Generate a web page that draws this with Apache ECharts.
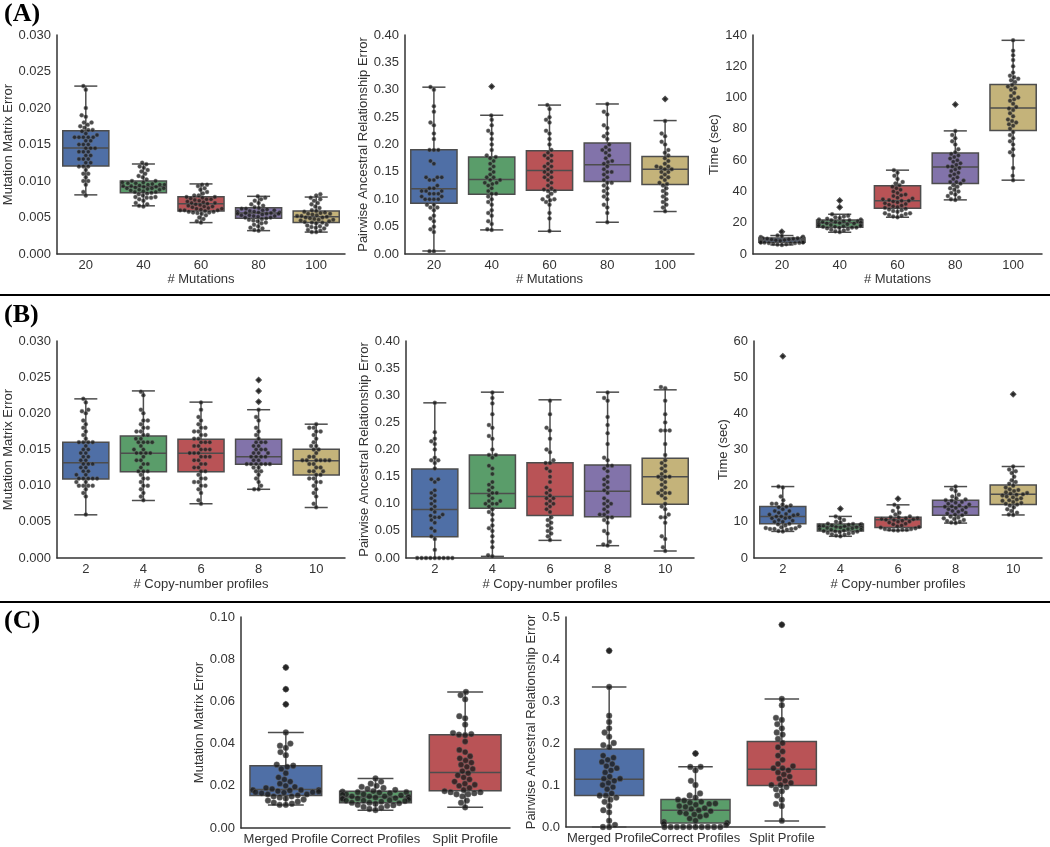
<!DOCTYPE html>
<html>
<head>
<meta charset="utf-8">
<script src="https://cdn.jsdelivr.net/npm/echarts@6/dist/echarts.min.js"></script>
<style>
  html, body { margin: 0; padding: 0; background: #fff; }
  #main { width: 1050px; height: 847px; }
</style>
</head>
<body>
<div id="main"></div>
<script>
// categories
var mutCats = ['20', '40', '60', '80', '100'];
var cnpCats = ['2', '4', '6', '8', '10'];
var profCats = ['Merged Profile', 'Correct Profiles', 'Split Profile'];

// box stats per category: [lowWhisker, q1, median, q3, highWhisker]
var aMatStats = [[0.0081, 0.01205, 0.01452, 0.0169, 0.0230], [0.0066, 0.0084, 0.0092, 0.0100, 0.01233], [0.0043, 0.0059, 0.0069, 0.00785, 0.0096], [0.0032, 0.0049, 0.0056, 0.00635, 0.0079], [0.0030, 0.0043, 0.0051, 0.0059, 0.0078]];
var aPairStats = [[0.0055, 0.0928, 0.119, 0.1905, 0.3047], [0.044, 0.109, 0.136, 0.177, 0.2534], [0.0415, 0.1166, 0.1527, 0.1887, 0.272], [0.058, 0.1325, 0.163, 0.2027, 0.274], [0.0776, 0.127, 0.155, 0.178, 0.2437]];
var aTimeStats = [[5.8, 7.5, 9.0, 10.3, 11.8], [13.9, 17.1, 19.9, 21.8, 25.4], [23.5, 29.3, 34.0, 43.6, 53.6], [34.6, 45.1, 55.6, 64.5, 78.7], [47.2, 78.9, 93.4, 108.4, 136.6]];
var bMatStats = [[0.00597, 0.01093, 0.01318, 0.0160, 0.0220], [0.00795, 0.01194, 0.01447, 0.01686, 0.0231], [0.0075, 0.01194, 0.01447, 0.0164, 0.02155], [0.0095, 0.01296, 0.0140, 0.0164, 0.0205], [0.00698, 0.01149, 0.01346, 0.01502, 0.0185]];
var bPairStats = [[0.0, 0.0392, 0.0894, 0.1642, 0.286], [0.003, 0.0919, 0.1188, 0.1899, 0.3057], [0.0325, 0.0784, 0.1133, 0.1758, 0.2916], [0.0227, 0.076, 0.1231, 0.1715, 0.3057], [0.0129, 0.0992, 0.150, 0.1838, 0.310]];
var bTimeStats = [[7.35, 9.46, 11.5, 14.24, 19.75], [6.0, 7.5, 8.7, 9.37, 11.5], [7.6, 8.45, 10.6, 11.3, 14.7], [9.65, 11.85, 14.15, 16.0, 19.75], [11.9, 14.8, 17.6, 20.2, 25.3]];
var cMatStats = [[0.0109, 0.0154, 0.0182, 0.0295, 0.0453], [0.0084, 0.0120, 0.0147, 0.0174, 0.0235], [0.0098, 0.0177, 0.0263, 0.0442, 0.0645]];
var cPairStats = [[0.0, 0.0748, 0.1139, 0.1855, 0.3336], [0.0, 0.0096, 0.0398, 0.0653, 0.1433], [0.0143, 0.0987, 0.1377, 0.2038, 0.305]];

// outliers per category
var aMatOut = [[], [], [], [], []];
var aPairOut = [[], [0.306], [], [], [0.283]];
var aTimeOut = [[14.3], [34.2, 29.9], [], [95.5], []];
var bMatOut = [[], [], [], [0.0246, 0.0231, 0.0216], []];
var bPairOut = [[], [], [], [], []];
var bTimeOut = [[55.8], [13.6], [16.4], [], [45.3]];
var cMatOut = [[0.0761, 0.0658, 0.0586], [], []];
var cPairOut = [[0.4196], [0.175], [0.4817]];

// individual observations per category (swarm)
var aMatPts = [
  [0.023, 0.0225, 0.020, 0.019, 0.0188, 0.018, 0.018, 0.0177, 0.0175, 0.0173, 0.017, 0.017, 0.0168, 0.0165, 0.0163, 0.016, 0.016, 0.016, 0.016, 0.016, 0.0155, 0.0155, 0.015, 0.015, 0.015, 0.0145, 0.0145, 0.0145, 0.014, 0.014, 0.014, 0.0135, 0.0135, 0.013, 0.013, 0.013, 0.0125, 0.0125, 0.012, 0.012, 0.012, 0.0115, 0.011, 0.011, 0.0105, 0.010, 0.010, 0.0095, 0.0085, 0.008],
  [0.0125, 0.0123, 0.012, 0.0118, 0.0115, 0.0113, 0.011, 0.0107, 0.0105, 0.0102, 0.010, 0.010, 0.0098, 0.0098, 0.0097, 0.0097, 0.0096, 0.0095, 0.0095, 0.0095, 0.0094, 0.0093, 0.0093, 0.0092, 0.0092, 0.0091, 0.009, 0.009, 0.009, 0.0089, 0.0088, 0.0088, 0.0087, 0.0086, 0.0085, 0.0085, 0.0084, 0.0083, 0.0082, 0.008, 0.0078, 0.0078, 0.0077, 0.0077, 0.0075, 0.0073, 0.007, 0.0068, 0.0066, 0.0065],
  [0.0095, 0.0095, 0.0093, 0.009, 0.0088, 0.0085, 0.0083, 0.008, 0.008, 0.0078, 0.0078, 0.0077, 0.0076, 0.0075, 0.0075, 0.0074, 0.0073, 0.0072, 0.0071, 0.007, 0.007, 0.0069, 0.0068, 0.0067, 0.0066, 0.0065, 0.0065, 0.0064, 0.0063, 0.0062, 0.0062, 0.0061, 0.006, 0.006, 0.006, 0.0059, 0.0058, 0.0058, 0.0057, 0.0057, 0.0056, 0.0055, 0.0053, 0.005, 0.0048, 0.0045, 0.0043],
  [0.0079, 0.0077, 0.0075, 0.0073, 0.007, 0.0068, 0.0066, 0.0064, 0.0063, 0.0062, 0.0062, 0.0061, 0.006, 0.006, 0.0059, 0.0058, 0.0058, 0.0057, 0.0057, 0.0056, 0.0056, 0.0055, 0.0055, 0.0055, 0.0054, 0.0053, 0.0053, 0.0052, 0.0052, 0.0051, 0.005, 0.005, 0.0049, 0.0048, 0.0047, 0.0046, 0.0045, 0.0043, 0.0042, 0.004, 0.0038, 0.0036, 0.0035, 0.0033, 0.0032],
  [0.0082, 0.008, 0.0077, 0.0075, 0.0073, 0.007, 0.0068, 0.0065, 0.0063, 0.006, 0.0059, 0.0058, 0.0057, 0.0056, 0.0055, 0.0055, 0.0054, 0.0053, 0.0052, 0.0052, 0.0051, 0.005, 0.005, 0.0049, 0.0048, 0.0047, 0.0047, 0.0046, 0.0045, 0.0044, 0.0043, 0.0043, 0.0042, 0.004, 0.0039, 0.0038, 0.0037, 0.0036, 0.0035, 0.0033, 0.0032, 0.003, 0.003]
];
var aPairPts = [
  [0.305, 0.30, 0.27, 0.26, 0.24, 0.235, 0.22, 0.21, 0.19, 0.19, 0.19, 0.17, 0.165, 0.14, 0.14, 0.14, 0.135, 0.135, 0.125, 0.12, 0.12, 0.115, 0.115, 0.115, 0.11, 0.11, 0.11, 0.105, 0.105, 0.10, 0.10, 0.10, 0.10, 0.09, 0.09, 0.085, 0.085, 0.08, 0.07, 0.065, 0.06, 0.05, 0.045, 0.04, 0.005, 0.005],
  [0.306, 0.253, 0.245, 0.235, 0.225, 0.22, 0.21, 0.2, 0.19, 0.18, 0.177, 0.175, 0.17, 0.165, 0.16, 0.155, 0.15, 0.145, 0.14, 0.14, 0.135, 0.135, 0.13, 0.13, 0.128, 0.125, 0.12, 0.115, 0.11, 0.11, 0.105, 0.1, 0.095, 0.09, 0.08, 0.075, 0.07, 0.06, 0.055, 0.045, 0.044],
  [0.272, 0.265, 0.25, 0.245, 0.24, 0.225, 0.22, 0.21, 0.2, 0.19, 0.185, 0.18, 0.18, 0.175, 0.17, 0.165, 0.16, 0.16, 0.155, 0.15, 0.15, 0.145, 0.14, 0.14, 0.135, 0.13, 0.125, 0.12, 0.118, 0.115, 0.115, 0.11, 0.105, 0.1, 0.1, 0.098, 0.095, 0.09, 0.075, 0.065, 0.042],
  [0.274, 0.26, 0.255, 0.235, 0.23, 0.22, 0.215, 0.21, 0.2, 0.195, 0.19, 0.19, 0.185, 0.18, 0.175, 0.17, 0.168, 0.165, 0.16, 0.155, 0.15, 0.15, 0.145, 0.14, 0.135, 0.13, 0.13, 0.125, 0.12, 0.115, 0.11, 0.105, 0.1, 0.09, 0.085, 0.075, 0.058],
  [0.283, 0.243, 0.22, 0.215, 0.205, 0.2, 0.19, 0.185, 0.18, 0.175, 0.17, 0.165, 0.16, 0.16, 0.158, 0.155, 0.155, 0.15, 0.15, 0.145, 0.14, 0.14, 0.135, 0.13, 0.128, 0.125, 0.12, 0.115, 0.11, 0.105, 0.1, 0.095, 0.09, 0.085, 0.078]
];
var aTimePts = [
  [14.3, 11.8, 11.5, 11, 10.8, 10.5, 10.3, 10.2, 10, 10, 9.8, 9.7, 9.5, 9.5, 9.4, 9.3, 9.2, 9, 9, 9, 8.9, 8.8, 8.7, 8.6, 8.5, 8.5, 8.4, 8.3, 8.2, 8.1, 8, 8, 7.9, 7.8, 7.7, 7.5, 7.5, 7.4, 7.3, 7.2, 7, 7, 6.8, 6.5, 6.3, 6, 5.8],
  [34.2, 29.9, 25.4, 24.5, 24, 23.5, 23, 22.5, 22, 22, 21.5, 21.5, 21, 21, 20.5, 20.5, 20, 20, 20, 19.8, 19.5, 19.5, 19, 19, 18.5, 18.5, 18, 18, 17.8, 17.5, 17.5, 17, 17, 16.8, 16.5, 16, 15.5, 15, 14.5, 14],
  [53.6, 52, 50, 48, 46, 45, 44, 43, 42, 41, 40, 39, 38, 37.5, 37, 36, 35.5, 35, 34.5, 34, 34, 33.5, 33, 32.5, 32, 31.5, 31, 30.5, 30, 29.5, 29, 28.5, 28, 27.5, 27, 26, 26, 25.5, 25, 24.5, 24, 23.5],
  [95.5, 78.7, 76, 74, 72, 70, 67, 65, 64, 63, 62, 61, 60, 59, 58, 57, 56, 56, 55, 54, 53, 52, 51, 50, 49, 48, 47, 46, 46, 45, 44, 43, 42, 41, 40, 39, 38, 37, 36, 35, 34.6],
  [136.6, 130, 127, 124, 120, 116, 114, 113, 112, 111, 110, 108, 107, 106, 105, 103, 101, 100, 99, 98, 96, 94, 93, 92, 90, 88, 86, 85, 84, 83, 82, 80, 78, 76, 74, 72, 70, 67, 65, 63, 55, 50, 47.2]
];
var bMatPts = [
  [0.022, 0.0215, 0.0205, 0.0203, 0.020, 0.019, 0.0185, 0.018, 0.0175, 0.017, 0.0165, 0.016, 0.016, 0.016, 0.016, 0.0155, 0.015, 0.015, 0.0145, 0.0145, 0.014, 0.014, 0.0135, 0.0135, 0.013, 0.013, 0.013, 0.0125, 0.0125, 0.012, 0.012, 0.0115, 0.0115, 0.011, 0.011, 0.011, 0.011, 0.011, 0.0105, 0.0105, 0.010, 0.010, 0.010, 0.010, 0.0095, 0.009, 0.0085, 0.006],
  [0.023, 0.0225, 0.0205, 0.02, 0.019, 0.019, 0.0185, 0.018, 0.018, 0.0175, 0.0175, 0.017, 0.017, 0.0165, 0.0165, 0.016, 0.016, 0.016, 0.016, 0.0155, 0.015, 0.015, 0.0145, 0.0145, 0.0145, 0.0145, 0.014, 0.0135, 0.0135, 0.013, 0.013, 0.0125, 0.012, 0.012, 0.012, 0.0115, 0.011, 0.011, 0.0105, 0.010, 0.010, 0.0095, 0.009, 0.0085, 0.008],
  [0.0215, 0.0205, 0.0195, 0.019, 0.0185, 0.018, 0.018, 0.0175, 0.0175, 0.017, 0.017, 0.0165, 0.0165, 0.016, 0.016, 0.016, 0.0155, 0.0155, 0.015, 0.015, 0.015, 0.0145, 0.0145, 0.0145, 0.014, 0.014, 0.014, 0.0135, 0.0135, 0.013, 0.013, 0.0125, 0.0125, 0.012, 0.012, 0.0115, 0.011, 0.011, 0.0105, 0.0105, 0.010, 0.010, 0.0095, 0.009, 0.008, 0.0075],
  [0.0246, 0.0231, 0.0216, 0.0205, 0.0195, 0.019, 0.018, 0.0175, 0.017, 0.0165, 0.016, 0.016, 0.016, 0.0155, 0.0155, 0.015, 0.015, 0.015, 0.0145, 0.0145, 0.0145, 0.014, 0.014, 0.014, 0.014, 0.0135, 0.0135, 0.013, 0.013, 0.013, 0.013, 0.013, 0.013, 0.0125, 0.0125, 0.012, 0.012, 0.0115, 0.011, 0.0105, 0.010, 0.0095, 0.0095],
  [0.0185, 0.018, 0.018, 0.0175, 0.0175, 0.017, 0.0165, 0.016, 0.0155, 0.0155, 0.015, 0.015, 0.0145, 0.014, 0.014, 0.0135, 0.0135, 0.0135, 0.0135, 0.0135, 0.0135, 0.013, 0.013, 0.0125, 0.0125, 0.012, 0.012, 0.012, 0.0115, 0.0115, 0.011, 0.011, 0.0105, 0.0105, 0.010, 0.0095, 0.009, 0.0085, 0.0075, 0.007]
];
var bPairPts = [
  [0.286, 0.232, 0.22, 0.215, 0.21, 0.2, 0.185, 0.18, 0.18, 0.175, 0.165, 0.145, 0.145, 0.14, 0.125, 0.12, 0.115, 0.11, 0.105, 0.1, 0.095, 0.09, 0.085, 0.08, 0.078, 0.075, 0.075, 0.07, 0.065, 0.055, 0.05, 0.04, 0.035, 0.015, 0, 0, 0, 0, 0, 0, 0, 0, 0],
  [0.305, 0.295, 0.285, 0.265, 0.245, 0.24, 0.225, 0.22, 0.2, 0.19, 0.19, 0.185, 0.17, 0.165, 0.155, 0.14, 0.135, 0.13, 0.125, 0.12, 0.12, 0.115, 0.11, 0.105, 0.105, 0.1, 0.1, 0.1, 0.095, 0.09, 0.085, 0.08, 0.07, 0.06, 0.055, 0.05, 0.04, 0.03, 0.02, 0.005, 0.003],
  [0.29, 0.265, 0.24, 0.235, 0.22, 0.2, 0.195, 0.18, 0.175, 0.175, 0.165, 0.16, 0.15, 0.14, 0.13, 0.125, 0.12, 0.115, 0.11, 0.11, 0.105, 0.1, 0.1, 0.095, 0.09, 0.085, 0.075, 0.07, 0.065, 0.06, 0.055, 0.05, 0.045, 0.04, 0.033],
  [0.305, 0.295, 0.29, 0.26, 0.245, 0.23, 0.21, 0.185, 0.18, 0.17, 0.17, 0.165, 0.16, 0.15, 0.145, 0.14, 0.135, 0.13, 0.125, 0.12, 0.11, 0.105, 0.1, 0.1, 0.095, 0.09, 0.085, 0.08, 0.08, 0.075, 0.075, 0.07, 0.065, 0.05, 0.045, 0.03, 0.025, 0.023],
  [0.315, 0.313, 0.29, 0.265, 0.25, 0.235, 0.235, 0.235, 0.21, 0.19, 0.18, 0.175, 0.17, 0.165, 0.16, 0.155, 0.15, 0.15, 0.15, 0.145, 0.14, 0.135, 0.13, 0.125, 0.12, 0.12, 0.12, 0.115, 0.11, 0.1, 0.095, 0.09, 0.08, 0.075, 0.075, 0.065, 0.04, 0.035, 0.02, 0.013]
];
var bTimePts = [
  [55.8, 19.75, 19.5, 17, 16, 15, 15, 14.8, 14.5, 14.2, 14, 13.5, 13, 13, 12.5, 12.2, 12, 12, 11.8, 11.5, 11.5, 11.2, 11, 11, 10.5, 10.3, 10, 10, 9.5, 9.3, 9, 8.8, 8.5, 8.3, 8.2, 8, 8, 8, 7.8, 7.5, 7.35],
  [13.6, 11.5, 11, 10.5, 10, 9.8, 9.5, 9.4, 9.3, 9.2, 9.2, 9, 9, 8.9, 8.8, 8.7, 8.6, 8.5, 8.5, 8.4, 8.3, 8.2, 8, 8, 7.9, 7.8, 7.6, 7.5, 7.4, 7.3, 7.2, 7, 7, 6.8, 6.6, 6.4, 6.2, 6],
  [16.4, 14.7, 14, 13, 12.5, 12, 11.5, 11.3, 11.2, 11, 11, 10.8, 10.7, 10.6, 10.5, 10.3, 10.1, 10, 9.8, 9.5, 9.3, 9, 8.8, 8.6, 8.4, 8.2, 8, 8, 7.9, 7.8, 7.8, 7.7, 7.6],
  [19.75, 19, 18.5, 17.5, 17, 16.5, 16.2, 16, 15.8, 15.5, 15.3, 15, 14.8, 14.5, 14.3, 14.2, 14, 13.8, 13.5, 13.3, 13, 12.8, 12.5, 12.3, 12, 11.8, 11.5, 11.2, 11, 10.8, 10.5, 10.2, 10, 9.8, 9.65],
  [45.3, 25.3, 24.5, 24, 23.5, 22.5, 21.5, 21, 20.5, 20, 19.5, 19, 18.8, 18.5, 18.2, 18, 17.8, 17.6, 17.5, 17.3, 17, 16.8, 16.5, 16.2, 16, 15.8, 15.5, 15.2, 15, 14.8, 14.5, 14, 13.5, 13, 12.5, 12, 11.9]
];
var cMatPts = [
  [0.0761, 0.0658, 0.0586, 0.0453, 0.04, 0.039, 0.038, 0.036, 0.0345, 0.03, 0.0295, 0.029, 0.028, 0.026, 0.024, 0.023, 0.022, 0.021, 0.02, 0.0195, 0.019, 0.0185, 0.018, 0.018, 0.018, 0.0178, 0.0175, 0.0172, 0.017, 0.017, 0.0168, 0.0165, 0.016, 0.016, 0.0155, 0.015, 0.015, 0.0145, 0.014, 0.0135, 0.013, 0.0125, 0.012, 0.0115, 0.011, 0.011],
  [0.0235, 0.022, 0.021, 0.02, 0.0195, 0.019, 0.0185, 0.018, 0.0175, 0.0172, 0.017, 0.017, 0.0168, 0.0165, 0.016, 0.016, 0.0158, 0.0155, 0.015, 0.015, 0.015, 0.0148, 0.0145, 0.0145, 0.0142, 0.014, 0.014, 0.0138, 0.0135, 0.0132, 0.013, 0.013, 0.0128, 0.0125, 0.012, 0.012, 0.0118, 0.0115, 0.011, 0.0108, 0.0105, 0.01, 0.0095, 0.009, 0.0085],
  [0.0645, 0.063, 0.061, 0.053, 0.052, 0.049, 0.045, 0.0445, 0.0442, 0.044, 0.041, 0.037, 0.036, 0.034, 0.033, 0.032, 0.031, 0.03, 0.029, 0.028, 0.027, 0.026, 0.025, 0.024, 0.023, 0.022, 0.021, 0.0205, 0.02, 0.019, 0.018, 0.0175, 0.017, 0.017, 0.0165, 0.016, 0.016, 0.015, 0.013, 0.012, 0.0098]
];
var cPairPts = [
  [0.4196, 0.3336, 0.265, 0.25, 0.235, 0.225, 0.215, 0.2, 0.195, 0.19, 0.17, 0.165, 0.16, 0.155, 0.15, 0.145, 0.14, 0.135, 0.13, 0.12, 0.115, 0.115, 0.11, 0.105, 0.1, 0.095, 0.09, 0.08, 0.075, 0.075, 0.07, 0.065, 0.06, 0.05, 0.04, 0.035, 0.015, 0.005, 0, 0],
  [0.175, 0.1433, 0.143, 0.135, 0.11, 0.1, 0.08, 0.075, 0.07, 0.065, 0.063, 0.06, 0.058, 0.056, 0.055, 0.053, 0.05, 0.048, 0.045, 0.043, 0.04, 0.038, 0.035, 0.032, 0.03, 0.028, 0.025, 0.02, 0.015, 0.012, 0.01, 0.008, 0.005, 0, 0, 0, 0, 0, 0, 0, 0, 0, 0],
  [0.4817, 0.305, 0.29, 0.26, 0.255, 0.245, 0.235, 0.225, 0.22, 0.21, 0.2, 0.19, 0.18, 0.17, 0.16, 0.15, 0.145, 0.14, 0.14, 0.135, 0.13, 0.125, 0.12, 0.115, 0.11, 0.105, 0.1, 0.1, 0.095, 0.09, 0.085, 0.075, 0.065, 0.055, 0.05, 0.015]
];

var palette = ['#4f6fa6', '#5a9d6a', '#b95356', '#8273aa', '#c4b37a'];
var lineCol = '#4d4d4d';
var textCol = '#333';
var font = '"Liberation Sans", Arial, sans-serif';
var labelFont = 'bold 26px "Liberation Serif", "Times New Roman", serif';

// panel layout
var panels = [
  { cats: mutCats, stats: aMatStats, out: aMatOut, pts: aMatPts, grid: [57, 35, 288, 219], max: 0.03, step: 0.005, dec: 3, yName: 'Mutation Matrix Error', xName: '# Mutations', yGap: 38, xGap: 18, r: 2 },
  { cats: mutCats, stats: aPairStats, out: aPairOut, pts: aPairPts, grid: [405, 35, 289, 219], max: 0.4, step: 0.05, dec: 2, yName: 'Pairwise Ancestral Relationship Error', xName: '# Mutations', yGap: 28, xGap: 18, r: 2 },
  { cats: mutCats, stats: aTimeStats, out: aTimeOut, pts: aTimePts, grid: [753, 35, 289, 219], max: 140, step: 20, dec: 0, yName: 'Time (sec)', xName: '# Mutations', yGap: 25, xGap: 18, r: 2 },
  { cats: cnpCats, stats: bMatStats, out: bMatOut, pts: bMatPts, grid: [57, 341, 288, 217], max: 0.03, step: 0.005, dec: 3, yName: 'Mutation Matrix Error', xName: '# Copy-number profiles', yGap: 38, xGap: 20, r: 2 },
  { cats: cnpCats, stats: bPairStats, out: bPairOut, pts: bPairPts, grid: [406, 341, 288, 217], max: 0.4, step: 0.05, dec: 2, yName: 'Pairwise Ancestral Relationship Error', xName: '# Copy-number profiles', yGap: 29, xGap: 20, r: 2 },
  { cats: cnpCats, stats: bTimeStats, out: bTimeOut, pts: bTimePts, grid: [754, 341, 288, 217], max: 60, step: 10, dec: 0, yName: 'Time (sec)', xName: '# Copy-number profiles', yGap: 20, xGap: 20, r: 2 },
  { cats: profCats, stats: cMatStats, out: cMatOut, pts: cMatPts, grid: [241, 617, 269, 211], max: 0.1, step: 0.02, dec: 2, yName: 'Mutation Matrix Error', xName: '', yGap: 32, xGap: 20, r: 2.9 },
  { cats: profCats, stats: cPairStats, out: cPairOut, pts: cPairPts, grid: [566, 617, 259, 210], max: 0.5, step: 0.1, dec: 1, yName: 'Pairwise Ancestral Relationship Error', xName: '', yGap: 24, xGap: 20, r: 2.9 }
];

// beeswarm: place each point closest to the centre without overlapping the ones already placed,
// points that do not fit inside the half width are pushed to the edge (as seaborn does)
function swarm(ys, d, half) {
  var order = ys.map(function (y, k) { return k; }).sort(function (a, b) { return ys[b] - ys[a]; });
  var placed = [];
  var offs = [];
  order.forEach(function (k) {
    var y = ys[k];
    var near = placed.filter(function (p) { return Math.abs(p.y - y) < d; });
    var cands = [0];
    near.forEach(function (p) {
      var dx = Math.sqrt(d * d - (p.y - y) * (p.y - y));
      cands.push(p.x + dx, p.x - dx);
    });
    cands.sort(function (a, b) { return Math.abs(a) - Math.abs(b) || a - b; });
    var x = 0;
    for (var c = 0; c < cands.length; c++) {
      var ok = near.every(function (p) {
        return (p.x - cands[c]) * (p.x - cands[c]) + (p.y - y) * (p.y - y) >= d * d - 0.01;
      });
      if (ok) { x = cands[c]; break; }
    }
    placed.push({ x: x, y: y });
    offs[k] = Math.max(-half, Math.min(half, x));
  });
  return offs;
}

var grids = [], xAxes = [], yAxes = [], series = [];

panels.forEach(function (p, gi) {
  grids.push({ left: p.grid[0], top: p.grid[1], width: p.grid[2], height: p.grid[3] });
  xAxes.push({
    gridIndex: gi, type: 'category', data: p.cats,
    axisLine: { lineStyle: { color: textCol, width: 1.5 } },
    axisTick: { show: false },
    axisLabel: { color: textCol, fontSize: 13, fontFamily: font, margin: 5, interval: 0 },
    name: p.xName, nameLocation: 'middle', nameGap: p.xGap,
    nameTextStyle: { color: textCol, fontSize: 13, fontFamily: font }
  });
  yAxes.push({
    gridIndex: gi, type: 'value', min: 0, max: p.max, interval: p.step,
    axisLine: { show: true, lineStyle: { color: textCol, width: 1.5 } },
    axisTick: { show: false },
    splitLine: { show: false },
    axisLabel: {
      color: textCol, fontSize: 13, fontFamily: font, margin: 6,
      formatter: function (v) { return v.toFixed(p.dec); }
    },
    name: p.yName, nameLocation: 'middle', nameGap: p.yGap,
    nameTextStyle: { color: textCol, fontSize: 13, fontFamily: font }
  });

  // boxes
  series.push({
    type: 'custom', xAxisIndex: gi, yAxisIndex: gi,
    data: p.stats.map(function (s, i) { return [i].concat(s); }),
    encode: { x: 0, y: [1, 2, 3, 4, 5] },
    renderItem: function (params, api) {
      var i = api.value(0);
      var lo = api.coord([i, api.value(1)]);
      var q1 = api.coord([i, api.value(2)]);
      var md = api.coord([i, api.value(3)]);
      var q3 = api.coord([i, api.value(4)]);
      var hi = api.coord([i, api.value(5)]);
      var bw = api.size([1, 0])[0] * 0.8;
      var cx = lo[0];
      var ln = { stroke: lineCol, lineWidth: 1.5 };
      return {
        type: 'group',
        children: [
          { type: 'line', shape: { x1: cx, y1: q3[1], x2: cx, y2: hi[1] }, style: ln },
          { type: 'line', shape: { x1: cx, y1: q1[1], x2: cx, y2: lo[1] }, style: ln },
          { type: 'line', shape: { x1: cx - bw / 4, y1: hi[1], x2: cx + bw / 4, y2: hi[1] }, style: ln },
          { type: 'line', shape: { x1: cx - bw / 4, y1: lo[1], x2: cx + bw / 4, y2: lo[1] }, style: ln },
          { type: 'rect', shape: { x: cx - bw / 2, y: q3[1], width: bw, height: q1[1] - q3[1] },
            style: { fill: palette[i], stroke: lineCol, lineWidth: 1.5 } },
          { type: 'line', shape: { x1: cx - bw / 2, y1: md[1], x2: cx + bw / 2, y2: md[1] }, style: ln }
        ]
      };
    },
    z: 1
  });

  // outliers
  var outData = [];
  p.out.forEach(function (arr, i) { arr.forEach(function (v) { outData.push([i, v]); }); });
  series.push({
    type: 'scatter', xAxisIndex: gi, yAxisIndex: gi,
    symbol: 'diamond', symbolSize: 7,
    itemStyle: { color: '#222' },
    data: outData, z: 2
  });

  // swarm of observations
  series.push({
    type: 'custom', xAxisIndex: gi, yAxisIndex: gi,
    data: p.pts.map(function (arr, i) { return [i, Math.min.apply(null, arr), Math.max.apply(null, arr)]; }),
    encode: { x: 0, y: [1, 2] },
    renderItem: function (params, api) {
      var i = api.value(0);
      var vals = p.pts[i];
      var cx = api.coord([i, 0])[0];
      var half = api.size([1, 0])[0] * 0.4 - p.r;
      var ys = vals.map(function (v) { return api.coord([i, v])[1]; });
      var offs = swarm(ys, p.r * 2 + 0.4, half);
      return {
        type: 'group',
        children: vals.map(function (v, k) {
          return {
            type: 'circle',
            shape: { cx: cx + offs[k], cy: ys[k], r: p.r },
            style: { fill: 'rgba(25,25,25,0.78)', stroke: 'rgba(110,110,110,0.7)', lineWidth: 0.6 }
          };
        })
      };
    },
    z: 3
  });
});

var chart = echarts.init(document.getElementById('main'), null, { renderer: 'canvas' });
chart.setOption({
  animation: false,
  backgroundColor: '#fff',
  grid: grids,
  xAxis: xAxes,
  yAxis: yAxes,
  series: series,
  graphic: [
    { type: 'text', left: 4, top: 1, style: { text: '(A)', font: labelFont, fill: '#000' } },
    { type: 'text', left: 4, top: 302, style: { text: '(B)', font: labelFont, fill: '#000' } },
    { type: 'text', left: 4, top: 608, style: { text: '(C)', font: labelFont, fill: '#000' } },
    { type: 'line', shape: { x1: 0, y1: 295, x2: 1050, y2: 295 }, style: { stroke: '#000', lineWidth: 2 } },
    { type: 'line', shape: { x1: 0, y1: 602, x2: 1050, y2: 602 }, style: { stroke: '#000', lineWidth: 2 } }
  ]
});
</script>
</body>
</html>
